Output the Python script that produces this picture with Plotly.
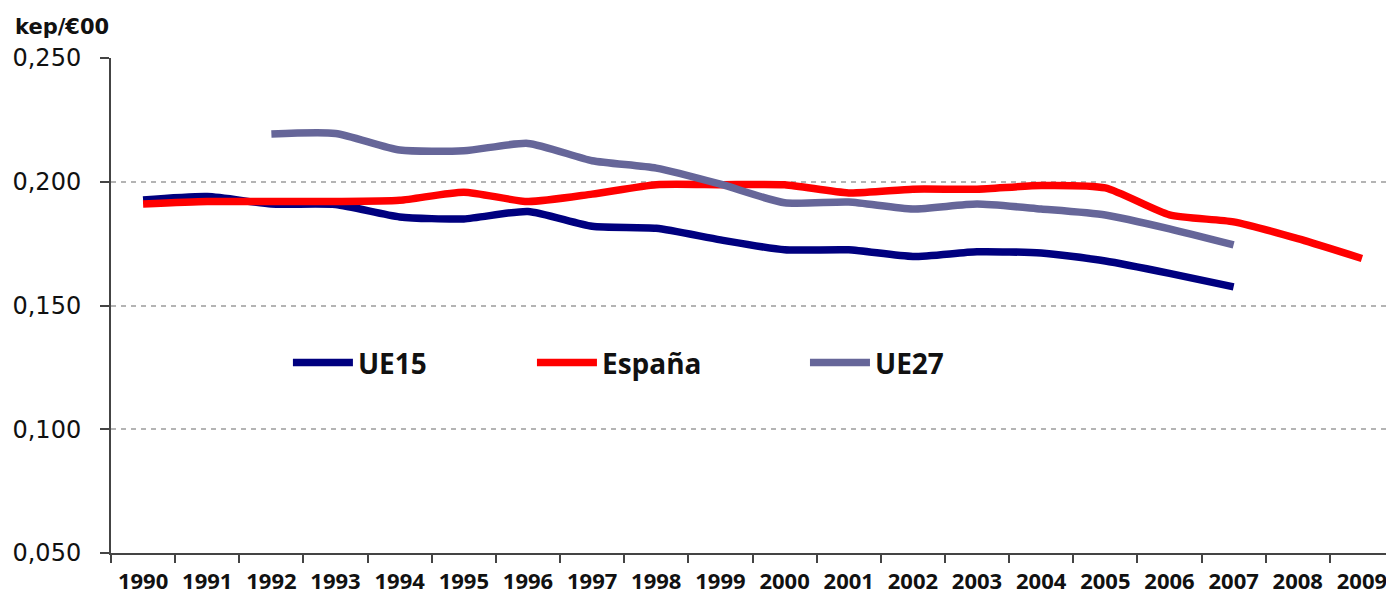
import plotly.graph_objects as go

years = [str(y) for y in range(1990, 2010)]
ue15 = [0.1926, 0.1940, 0.1910, 0.1908, 0.1858, 0.1850, 0.1880, 0.1820, 0.1812, 0.1765,
        0.1725, 0.1725, 0.1698, 0.1717, 0.1712, 0.1680, 0.1630, 0.1575, None, None]
espana = [0.1910, 0.1920, 0.1920, 0.1920, 0.1925, 0.1958, 0.1920, 0.1950, 0.1988, 0.1988,
          0.1988, 0.1955, 0.1970, 0.1970, 0.1985, 0.1975, 0.1866, 0.1838, 0.1770, 0.1690]
ue27 = [None, None, 0.2193, 0.2195, 0.2128, 0.2125, 0.2155, 0.2085, 0.2055, 0.1990,
        0.1915, 0.1918, 0.1890, 0.1910, 0.1890, 0.1866, 0.1810, 0.1745, None, None]

series = [
    ("UE15", ue15, "#00007f", "legend", 0.1379),
    ("España", espana, "#ff0000", "legend2", 0.3281),
    ("UE27", ue27, "#666699", "legend3", 0.5409),
]

fig = go.Figure()
for name, vals, color, leg, lx in series:
    fig.add_trace(go.Scatter(
        x=years, y=vals, name=name, mode="lines",
        line=dict(color=color, width=7.5, shape="spline", smoothing=0.6),
        connectgaps=False, legend=leg,
    ))

legend_common = dict(
    orientation="h", yanchor="middle", y=0.384, xanchor="left",
    bgcolor="rgba(0,0,0,0)", borderwidth=0, itemwidth=60,
    font=dict(family="Open Sans", size=28, color="#111111", weight="bold"),
    tracegroupgap=0,
)
# page body has an 8px margin; the figure is sized so the plot lands where the reference has it
fig.update_layout(
    width=1386, height=597,
    margin=dict(l=103, r=0, t=50, b=52),
    paper_bgcolor="white", plot_bgcolor="white",
    separators=",.",
    showlegend=True,
    legend=dict(legend_common, x=series[0][4]),
    legend2=dict(legend_common, x=series[1][4]),
    legend3=dict(legend_common, x=series[2][4]),
    xaxis=dict(
        type="category", range=[-0.5, 19.5], tickson="boundaries",
        showline=True, linecolor="#444444", linewidth=2,
        ticks="outside", ticklen=8, tickwidth=2, tickcolor="#444444",
        showgrid=False, zeroline=False, ticklabelstandoff=8,
        tickfont=dict(family="Open Sans", size=22, color="#111111", weight="bold"),
    ),
    yaxis=dict(
        range=[0.05, 0.25], dtick=0.05, tick0=0.05, tickformat=".3f",
        showline=True, linecolor="#444444", linewidth=2,
        ticks="outside", ticklen=9, tickwidth=2, tickcolor="#444444",
        showgrid=True, gridcolor="#b4b4b4", gridwidth=2, griddash="5px,5px",
        zeroline=False, ticklabelstandoff=14,
        tickfont=dict(family="DejaVu Sans", size=24, color="#111111"),
    ),
    title=dict(
        text="kep/€00", xref="container", yref="container",
        x=7 / 1386, xanchor="left", y=1 - 19 / 597, yanchor="middle",
        font=dict(family="DejaVu Sans", size=21, color="#111111", weight="bold"),
    ),
)

fig.write_html("out.html")
